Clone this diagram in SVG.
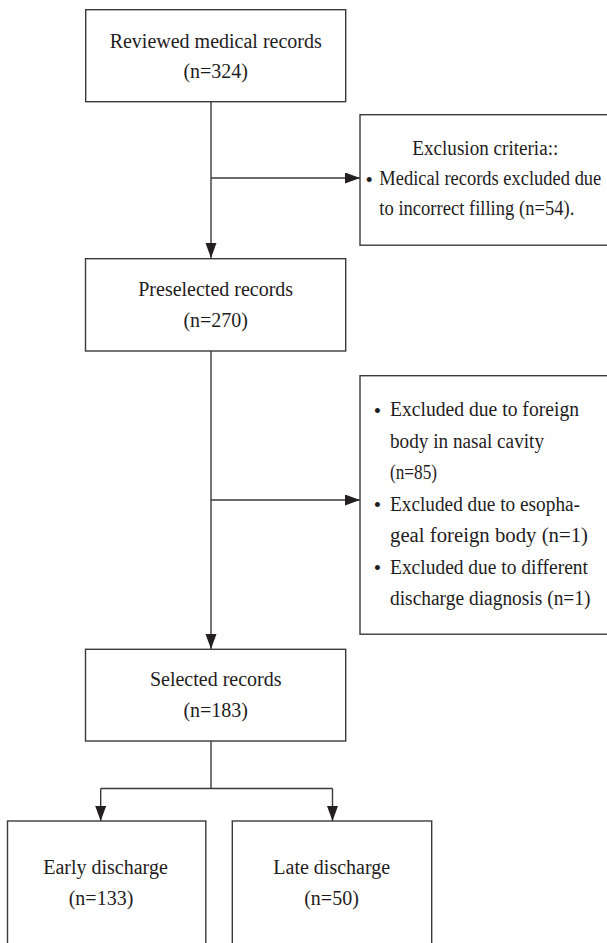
<svg xmlns="http://www.w3.org/2000/svg" width="607" height="943" viewBox="0 0 607 943">
<style>
.box{fill:#ffffff;stroke:#3a3a3a;stroke-width:1.4}
.ln{fill:none;stroke:#3a3a3a;stroke-width:1.4}
text{font-family:'Liberation Serif','Times New Roman','DejaVu Serif',serif;font-size:20px;fill:#1f1c1d}
.c{text-anchor:middle}
.b{font-size:21px;text-anchor:middle}
</style>
<defs>
<marker id="ah" markerUnits="userSpaceOnUse" markerWidth="16" markerHeight="12" refX="15" refY="5.5" orient="auto">
<path d="M0,0 L15,5.5 L0,11 Z" fill="#231f20"/>
</marker>
</defs>
<rect width="607" height="943" fill="#ffffff"/>
<g id="connectors">
<line class="ln" x1="211" y1="102" x2="211" y2="258" marker-end="url(#ah)"/>
<line class="ln" x1="211" y1="178" x2="360" y2="178" marker-end="url(#ah)"/>
<line class="ln" x1="211" y1="351" x2="211" y2="649" marker-end="url(#ah)"/>
<line class="ln" x1="211" y1="500" x2="360" y2="500" marker-end="url(#ah)"/>
<line class="ln" x1="211" y1="741" x2="211" y2="788.5"/>
<line class="ln" x1="100.7" y1="788.5" x2="332.5" y2="788.5"/>
<line class="ln" x1="100.7" y1="788.5" x2="100.7" y2="821" marker-end="url(#ah)"/>
<line class="ln" x1="332.5" y1="788.5" x2="332.5" y2="821" marker-end="url(#ah)"/>
</g>
<g id="nodes" font-family="Liberation Serif, serif">
<g id="reviewed">
<rect class="box" x="85.7" y="9.7" width="260" height="92"/>
<text class="c" x="215.7" y="47.5">Reviewed medical records</text>
<text class="c" x="215.7" y="78">(n=324)</text>
</g>
<g id="exclusion1">
<rect class="box" x="360" y="114.7" width="252" height="130.5"/>
<text class="c" x="485.3" y="155" textLength="146" lengthAdjust="spacingAndGlyphs">Exclusion criteria::</text>
<text class="b" x="369.3" y="186.5">•</text>
<text x="379.3" y="185" textLength="222" lengthAdjust="spacingAndGlyphs">Medical records excluded due</text>
<text x="379.3" y="215" textLength="195" lengthAdjust="spacingAndGlyphs">to incorrect filling (n=54).</text>
</g>
<g id="preselected">
<rect class="box" x="85.5" y="258.7" width="260.2" height="92.3"/>
<text class="c" x="215.7" y="296">Preselected records</text>
<text class="c" x="215.7" y="327">(n=270)</text>
</g>
<g id="exclusion2">
<rect class="box" x="360" y="375.7" width="252" height="258.5"/>
<text class="b" x="377.5" y="417.5">•</text>
<text x="390" y="416" textLength="189" lengthAdjust="spacingAndGlyphs">Excluded due to foreign</text>
<text x="390" y="447.5" textLength="154" lengthAdjust="spacingAndGlyphs">body in nasal cavity</text>
<text x="390" y="479" textLength="47" lengthAdjust="spacingAndGlyphs">(n=85)</text>
<text class="b" x="377.5" y="512">•</text>
<text x="390" y="510.5" textLength="190" lengthAdjust="spacingAndGlyphs">Excluded due to esopha-</text>
<text x="390" y="542" textLength="198" lengthAdjust="spacingAndGlyphs">geal foreign body (n=1)</text>
<text class="b" x="377.5" y="575">•</text>
<text x="390" y="573.5" textLength="198" lengthAdjust="spacingAndGlyphs">Excluded due to different</text>
<text x="390" y="605" textLength="200.5" lengthAdjust="spacingAndGlyphs">discharge diagnosis (n=1)</text>
</g>
<g id="selected">
<rect class="box" x="85.5" y="649.3" width="260.2" height="91.7"/>
<text class="c" x="215.7" y="686">Selected records</text>
<text class="c" x="215.7" y="717">(n=183)</text>
</g>
<g id="early">
<rect class="box" x="7.5" y="821" width="198.3" height="140"/>
<text class="c" x="105.5" y="873.5">Early discharge</text>
<text class="c" x="101" y="905">(n=133)</text>
</g>
<g id="late">
<rect class="box" x="232.3" y="821" width="199.4" height="140"/>
<text class="c" x="331.7" y="873.5">Late discharge</text>
<text class="c" x="331.5" y="905">(n=50)</text>
</g>
</g>
</svg>
